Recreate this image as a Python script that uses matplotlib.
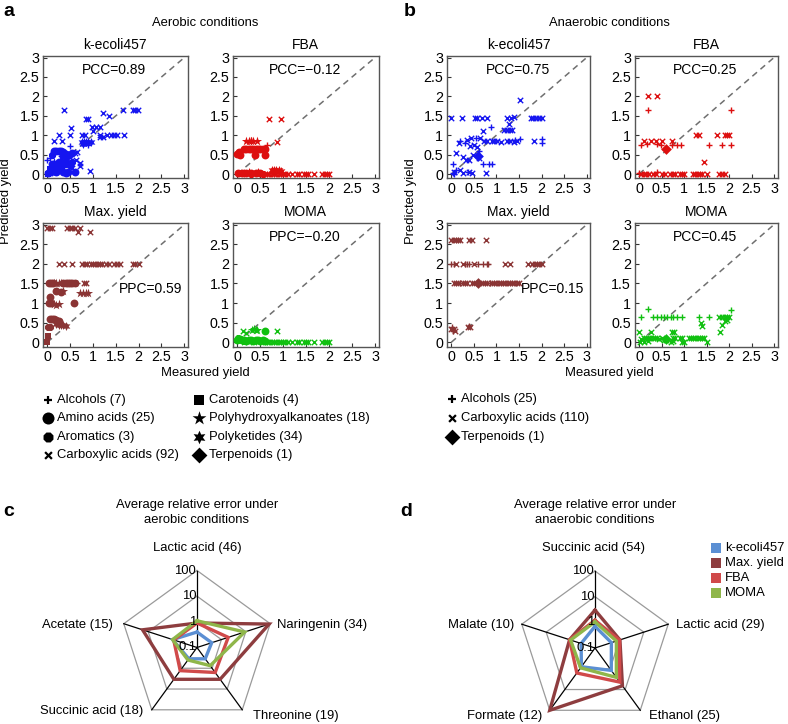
import numpy as np
import matplotlib
matplotlib.use("Agg")
import matplotlib.pyplot as plt
from matplotlib.patches import Rectangle

plt.rcParams['font.family'] = ['Liberation Sans', 'DejaVu Sans']

W, H = 788, 724
FS = 9.4

# ---------------- scatter data (x = measured, y = predicted, c = class code) ----------------
# class codes: + alcohols, o amino acids, 8 aromatics, x carboxylic acids, s carotenoids,
#              * polyhydroxyalkanoates, h polyketides, D terpenoids
aer_kecoli_x = [0.33, 0.36, 0.51, 0.5, 0.25, 0.93, 0.72, 0.6, 0.65, 0.85, 0.9, 0.76, 0.83, 0.97, 1.07, 1.16,
                1.0, 1.21, 1.36, 1.16, 1.3, 1.39, 1.45, 1.52, 1.68, 1.66, 1.88, 1.93, 1.98, 1.16, 1.23, 0.72,
                0.47, 0.14, 0.05, 0.1, 0.2, 0.55, 0.62, 0.3,
                0.5, 0.9, 0.83, 0.0, 0.05,
                0.75, 0.8, 0.85, 0.9, 0.95, 0.78,
                0.15, 0.2, 0.25, 0.3, 0.35, 0.35, 0.42, 0.47, 0.55, 0.4, 0.1, 0.18, 0.25, 0.32, 0.38, 0.42,
                0.5, 0.02, 0.07, 0.13, 0.2, 0.35, 0.4, 0.45, 0.6,
                0.3, 0.55, 0.1,
                0.05, 0.12, 0.02, 0.25,
                0.2, 0.28, 0.45, 0.15]
aer_kecoli_y = [0.85, 1.66, 1.19, 1.0, 1.0, 0.08, 0.28, 0.53, 0.58, 1.41, 1.41, 1.0, 1.0, 1.2, 1.2, 1.2,
                1.1, 1.56, 1.5, 1.0, 1.0, 1.0, 1.0, 1.0, 1.0, 1.66, 1.64, 1.64, 1.64, 0.96, 0.96, 0.2,
                0.46, 0.85, 0.02, 0.1, 0.05, 0.15, 0.35, 0.4,
                0.73, 0.75, 0.8, 0.36, 0.4,
                0.82, 0.82, 0.82, 0.82, 0.82, 0.78,
                0.6, 0.6, 0.6, 0.6, 0.58, 0.5, 0.52, 0.5, 0.53, 0.45, 0.25, 0.22, 0.3, 0.28, 0.25, 0.3,
                0.22, 0.02, 0.05, 0.08, 0.05, 0.05, 0.02, 0.06, 0.05,
                0.15, 0.32, 0.5,
                0.12, 0.18, 0.0, 0.12,
                0.25, 0.2, 0.3, 0.32]
aer_kecoli_c = "x" * 40 + "+" * 5 + "h" * 6 + "o" * 25 + "8" * 3 + "s" * 4 + "*" * 4

aer_fba_x = [0.68, 0.95, 0.87, 0.6, 0.65, 0.7, 0.75, 0.8, 0.85, 0.9, 0.95, 1.0, 1.05, 1.1, 1.2, 1.3, 1.35,
             1.45, 1.5, 1.55, 1.68, 1.85, 1.9, 1.95, 2.0,
             0.64, 0.3,
             0.0, 0.03, 0.05, 0.15, 0.2, 0.25, 0.3, 0.35, 0.4, 0.45, 0.5, 0.55, 0.6, 0.38, 0.6,
             0.02, 0.1, 0.2, 0.3, 0.4, 0.5,
             0.2, 0.25, 0.3, 0.35, 0.42,
             0.75, 0.8, 0.85, 0.9, 0.95, 0.15, 0.25, 0.45,
             0.3, 0.55, 0.05, 0.12]
aer_fba_y = [1.42, 1.42, 0.83, 0, 0, 0, 0, 0, 0, 0, 0, 0, 0, 0, 0, 0, 0,
             0, 0, 0, 0, 0, 0, 0, 0,
             0.76, 0.88,
             0.52, 0.56, 0.5, 0.65, 0.65, 0.65, 0.65, 0.65, 0.65, 0.65, 0.65, 0.65, 0.65, 0.49, 0.49,
             0.02, 0.02, 0.02, 0.02, 0.02, 0.02,
             0.85, 0.85, 0.85, 0.85, 0.85,
             0.1, 0.1, 0.1, 0.1, 0.08, 0.03, 0.05, 0.05,
             0.0, 0.0, 0.0, 0.0]
aer_fba_c = "x" * 25 + "+" * 2 + "o" * 21 + "*" * 5 + "h" * 8 + "8" * 2 + "s" * 2

aer_max_x = [0.0, 0.05, 0.1, 0.43, 0.5, 0.55, 0.6, 0.72, 0.68, 0.94,
             0.25, 0.36, 0.54, 0.76, 0.82, 0.88, 0.95, 1.0, 1.05, 1.1, 1.15, 1.2, 1.28, 1.35, 1.45, 1.52,
             1.6, 1.88, 1.93, 2.0, 0.8, 0.85,
             0.03, 0.08, 0.12, 0.35, 0.4, 0.45, 0.5, 0.55, 0.6, 0.05, 0.03, 0.08, 0.58,
             0.05, 0.1, 0.15, 0.2, 0.25, 0.2, 0.3,
             0.15, 0.2, 0.25, 0.3, 0.35, 0.72, 0.78, 0.84, 0.9, 0.15, 0.2, 0.25,
             0.65,
             0.2, 0.25, 0.3, 0.35, 0.4,
             0.05, 0.02, 0.02, 0.0]
aer_max_y = [2.9, 2.9, 2.9, 2.9, 2.9, 2.9, 2.9, 2.9, 2.82, 2.82,
             2.0, 2.0, 2.0, 2.0, 2.0, 2.0, 2.0, 2.0, 2.0, 2.0, 2.0, 2.0, 2.0, 2.0, 2.0, 2.0,
             2.0, 2.0, 2.0, 2.0, 1.5, 1.5,
             1.5, 1.5, 1.5, 1.5, 1.5, 1.5, 1.5, 1.5, 1.5, 1.15, 1.0, 1.0, 1.0,
             0.6, 0.6, 0.6, 0.58, 0.55, 1.3, 1.28,
             1.5, 1.5, 1.5, 1.5, 1.3, 1.25, 1.25, 1.25, 1.25, 0.97, 0.96, 0.97,
             1.5,
             0.47, 0.45, 0.45, 0.43, 0.42,
             0.4, 0.38, 0.15, 0.0]
aer_max_c = "x" * 32 + "o" * 20 + "*" * 12 + "+" + "h" * 5 + "8" * 2 + "s" * 2

aer_moma_x = [0.13, 0.18, 0.86, 0.6, 0.65, 0.7, 0.75, 0.8, 0.85, 0.9, 0.95, 1.0, 1.05, 1.1, 1.2, 1.3, 1.35,
              1.45, 1.5, 1.55, 1.68, 1.85, 1.9, 1.95, 2.0,
              0.32, 0.36, 0.4, 0.44,
              0.6, 0.0, 0.05, 0.1, 0.15, 0.2, 0.25, 0.3, 0.35, 0.4, 0.45, 0.5, 0.55, 0.6,
              0.1, 0.2, 0.3, 0.4, 0.5,
              0.02, 0.15, 0.35]
aer_moma_y = [0.28, 0.24, 0.3, 0, 0, 0, 0, 0, 0, 0, 0, 0, 0, 0, 0, 0, 0,
              0, 0, 0, 0, 0, 0, 0, 0,
              0.32, 0.33, 0.32, 0.32,
              0.28, 0.05, 0.08, 0.06, 0.05, 0.04, 0.06, 0.05, 0.04, 0.05, 0.06, 0.04, 0.05, 0.04,
              0.03, 0.04, 0.03, 0.04, 0.03,
              0.1, 0.02, 0.02]
aer_moma_c = "x" * 25 + "*" * 4 + "o" * 14 + "h" * 5 + "8" * 3

ana_kecoli_x = [0.0, 0.24, 0.52, 0.58, 0.69, 0.8, 1.23, 1.32, 1.76, 1.82, 1.88, 1.94, 2.0, 1.52, 1.17, 1.24,
                1.3, 1.35, 1.28, 1.39, 0.72, 0.8, 0.9, 0.95, 1.02, 1.1, 1.24, 1.3, 1.4, 1.45, 1.83, 0.5,
                0.34, 0.17, 0.41, 0.58, 0.63, 0.43, 0.1, 0.26, 0.32, 0.39, 0.47, 0.61, 0.76, 0.7, 0.2,
                0.05, 0.25, 0.4, 0.45,
                0.87, 1.52, 2.02, 2.0, 0.71, 0.84, 0.9, 0.04, 0.2, 0.55, 0.3, 0.62, 0.1, 0.03, 0.38,
                1.42, 0.05,
                0.6]
ana_kecoli_y = [1.44, 1.44, 1.44, 1.44, 1.44, 1.44, 1.44, 1.44, 1.44, 1.44, 1.44, 1.44, 1.44, 1.9, 1.13, 1.13,
                1.13, 1.13, 1.3, 1.47, 0.85, 0.85, 0.85, 0.85, 0.85, 0.82, 0.85, 0.85, 0.83, 0.85, 0.85, 0.75,
                0.88, 0.79, 0.72, 0.7, 0.92, 0.92, 0.53, 0.45, 0.36, 0.36, 0.49, 0.4, 0.02, 1.1, 0.1,
                0.05, 0.02, 0.05, 0.03,
                1.22, 0.9, 0.9, 0.8, 0.26, 0.26, 0.26, 0.26, 0.85, 0.92, 0.8, 0.6, 0.1, 0.03, 0.05,
                0.88, 0.0,
                0.46]
ana_kecoli_c = "x" * 51 + "+" * 17 + "D"

ana_fba_x = [0.2, 0.41, 0.1, 0.27, 0.37, 0.52, 0.74, 1.26, 1.33, 1.74, 1.9, 1.95, 2.0, 1.44,
             0.05, 0.1, 0.15, 0.22, 0.3, 0.38, 0.5, 0.58, 0.68, 0.75, 0.8, 0.9, 0.95, 1.0, 1.2, 1.25,
             1.3, 1.35, 1.4, 1.5, 1.78, 1.85, 1.9,
             0.19, 2.04, 0.04, 0.17, 0.39, 0.48, 0.74, 0.85, 0.93, 1.56, 1.85, 2.04, 0.4, 0.0,
             0.59]
ana_fba_y = [2.0, 2.0, 0.85, 0.85, 0.85, 0.85, 0.85, 1.0, 1.0, 1.0, 1.0, 1.0, 1.0, 0.32,
             0, 0, 0, 0, 0, 0, 0, 0, 0, 0, 0, 0, 0, 0, 0, 0,
             0, 0, 0, 0, 0, 0, 0,
             1.65, 1.65, 0.75, 0.77, 0.77, 0.75, 0.75, 0.75, 0.75, 0.75, 0.75, 0.75, 0.05, 0.02,
             0.64]
ana_fba_c = "x" * 37 + "+" * 14 + "D"

ana_max_x = [0.0, 0.05, 0.1, 0.15, 0.2, 0.39, 0.45, 0.76,
             1.2, 1.3, 1.7, 1.78, 1.85, 1.9, 1.95, 2.0, 0.1, 0.25, 0.5,
             0.05, 0.1, 0.15, 0.25, 0.3, 0.35, 0.45, 0.5, 0.7, 0.75, 0.8, 0.9, 0.95, 1.0, 1.05, 1.1,
             1.15, 1.2, 1.25, 1.3, 1.35, 1.4, 1.45, 1.5,
             0.0, 0.05, 0.08, 0.37, 0.42,
             0.0, 0.05, 0.3, 0.35, 0.4, 0.6, 0.7, 0.78, 0.82, 0.85, 0.2, 0.02, 0.03, 0.4,
             0.6]
ana_max_y = [2.6, 2.6, 2.6, 2.6, 2.6, 2.6, 2.6, 2.6,
             2.0, 2.0, 2.0, 2.0, 2.0, 2.0, 2.0, 2.0, 2.0, 2.0, 2.0,
             1.5, 1.5, 1.5, 1.5, 1.5, 1.5, 1.5, 1.5, 1.5, 1.5, 1.5, 1.5, 1.5, 1.5, 1.5, 1.5,
             1.5, 1.5, 1.5, 1.5, 1.5, 1.5, 1.5, 1.5,
             0.35, 0.33, 0.28, 0.4, 0.4,
             2.0, 2.0, 2.0, 2.0, 2.0, 2.0, 2.0, 2.0, 2.0, 1.5, 1.5, 0.38, 0.3, 0.42,
             1.5]
ana_max_c = "x" * 48 + "+" * 14 + "D"

ana_moma_x = [1.78, 1.85, 1.9, 1.95, 2.0, 1.37, 1.41, 1.85, 1.91, 1.96, 1.8, 0.0, 0.26, 0.74, 0.78,
              0.05, 0.1, 0.15, 0.2, 0.25, 0.3, 0.35, 0.4, 0.45, 0.5, 0.55, 0.6, 0.75, 0.8, 0.9, 0.95,
              1.1, 1.15, 1.2, 1.25, 1.3, 1.35, 1.4, 1.45, 0.02, 0.1, 0.2, 0.7, 0.75, 0.95, 1.0, 1.5,
              0.2, 0.05, 0.3, 0.41, 0.48, 0.55, 0.62, 0.7, 0.85, 0.96, 1.33, 1.55, 2.04, 0.75,
              0.6]
ana_moma_y = [0.65, 0.65, 0.65, 0.65, 0.65, 0.49, 0.41, 0.45, 0.53, 0.58, 0.26, 0.26, 0.26, 0.26, 0.26,
              0.08, 0.1, 0.1, 0.12, 0.12, 0.1, 0.12, 0.1, 0.08, 0.1, 0.05, 0.05, 0.1, 0.1, 0.1, 0.1,
              0.1, 0.1, 0.1, 0.1, 0.1, 0.1, 0.1, 0.12, 0.0, 0.0, 0.02, 0.0, 0.02, 0.0, 0.0, 0.0,
              0.85, 0.65, 0.65, 0.65, 0.65, 0.65, 0.65, 0.65, 0.65, 0.65, 0.65, 0.65, 0.83, 0.65,
              0.08]
ana_moma_c = "x" * 47 + "+" * 14 + "D"

pcc_labels = {"aer_kecoli": "PCC=0.89", "aer_fba": "PCC=\u22120.12", "aer_max": "PPC=0.59",
              "aer_moma": "PPC=\u22120.20", "ana_kecoli": "PCC=0.75", "ana_fba": "PCC=0.25",
              "ana_max": "PPC=0.15", "ana_moma": "PCC=0.45"}

aer_legend = ["Alcohols (7)", "Amino acids (25)", "Aromatics (3)", "Carboxylic acids (92)",
              "Carotenoids (4)", "Polyhydroxyalkanoates (18)", "Polyketides (34)", "Terpenoids (1)"]
aer_legend_codes = ["+", "o", "8", "x", "s", "*", "h", "D"]
ana_legend = ["Alcohols (25)", "Carboxylic acids (110)", "Terpenoids (1)"]
ana_legend_codes = ["+", "x", "D"]

# ---------------- radar data ----------------
radar_rings = [0.1, 1, 10, 100]
c_axes = ["Lactic acid (46)", "Naringenin (34)", "Threonine (19)", "Succinic acid (18)", "Acetate (15)"]
c_kecoli = [0.4, 0.4, 0.35, 0.35, 1.0]
c_maxyield = [0.9, 90, 3.4, 3.4, 17]
c_fba = [0.9, 1.9, 1.6, 1.3, 0.9]
c_moma = [1.1, 9, 0.75, 0.4, 1.0]

d_axes = ["Succinic acid (54)", "Lactic acid (29)", "Ethanol (25)", "Formate (12)", "Malate (10)"]
d_kecoli = [0.7, 0.47, 1.2, 0.8, 0.37]
d_maxyield = [3.0, 1.05, 6.6, 100, 1.1]
d_fba = [1.2, 1.0, 4.4, 1.6, 1.1]
d_moma = [1.05, 0.75, 2.6, 0.9, 1.0]
radar_series = ["k-ecoli457", "Max. yield", "FBA", "MOMA"]
radar_colors = ["#5b8fd3", "#8e3d3f", "#d04a4a", "#8fb64a"]

# ---------------- styling ----------------
MARKERS = {'+': '+', 'o': 'o', '8': '8', 'x': 'x', 's': 's', '*': '*', 'h': (6, 1, 0), 'D': 'D'}
SIZES = {'+': 24, 'o': 32, '8': 30, 'x': 15, 's': 22, '*': 48, 'h': 42, 'D': 30}
COL = {"kecoli": "#1515f0", "fba": "#dd0f0f", "max": "#8a3434", "moma": "#10c010"}

fig = plt.figure(figsize=(W / 100, H / 100), dpi=100)


def px_axes(l, t, r, b, **kw):
    return fig.add_axes([l / W, 1 - b / H, (r - l) / W, (b - t) / H], **kw)


def scatter_panel(box, xs, ys, cs, color, label):
    ax = px_axes(*box)
    ax.plot([0, 3], [0, 3], ls=(0, (4, 3)), color="#6f6f6f", lw=1.1, zorder=1)
    xs = np.asarray(xs, float)
    ys = np.asarray(ys, float)
    cs = np.array(list(cs))
    for code in dict.fromkeys(cs):
        m = cs == code
        lw = 1.0 if code in "+x" else 0
        ax.scatter(xs[m], ys[m], marker=MARKERS[code], s=SIZES[code], color=color,
                   linewidths=lw, zorder=3)
    ax.set_xlim(-0.1, 3.08)
    ax.set_ylim(-0.11, 3.04)
    ticks = [0, 0.5, 1, 1.5, 2, 2.5, 3]
    lbl = ["0", "0.5", "1", "1.5", "2", "2.5", "3"]
    ax.set_xticks(ticks, lbl)
    ax.set_yticks(ticks, lbl)
    ax.tick_params(direction="in", length=3, width=0.8, labelsize=10.3, pad=2.5, colors="#333333",
                   labelcolor="black")
    for s in ax.spines.values():
        s.set_color("#555555")
        s.set_linewidth(1.0)
    if label in ("aer_max", "ana_max"):
        ax.text(2.25, 1.36, pcc_labels[label], ha="center", va="center", fontsize=10)
    else:
        ax.text(1.47, 2.68, pcc_labels[label], ha="center", va="center", fontsize=10)
    return ax


top = (56, 178.3)
bot = (223, 346.6)
scatter_panel((42.7, top[0], 188, top[1]), aer_kecoli_x, aer_kecoli_y, aer_kecoli_c, COL["kecoli"], "aer_kecoli")
scatter_panel((232.7, top[0], 378.7, top[1]), aer_fba_x, aer_fba_y, aer_fba_c, COL["fba"], "aer_fba")
scatter_panel((42.7, bot[0], 188, bot[1]), aer_max_x, aer_max_y, aer_max_c, COL["max"], "aer_max")
scatter_panel((232.7, bot[0], 378.7, bot[1]), aer_moma_x, aer_moma_y, aer_moma_c, COL["moma"], "aer_moma")
scatter_panel((446.8, top[0], 590.3, top[1]), ana_kecoli_x, ana_kecoli_y, ana_kecoli_c, COL["kecoli"], "ana_kecoli")
scatter_panel((634.5, top[0], 777.6, top[1]), ana_fba_x, ana_fba_y, ana_fba_c, COL["fba"], "ana_fba")
scatter_panel((446.8, bot[0], 590.3, bot[1]), ana_max_x, ana_max_y, ana_max_c, COL["max"], "ana_max")
scatter_panel((634.5, bot[0], 777.6, bot[1]), ana_moma_x, ana_moma_y, ana_moma_c, COL["moma"], "ana_moma")

ov = fig.add_axes([0, 0, 1, 1])
ov.set_xlim(0, W)
ov.set_ylim(H, 0)
ov.axis("off")

# ---------------- radar panels ----------------
R_PX = 77.0


def radar_panel(center, values_list, title_lines, axis_labels, label_pos):
    cx, cy = center
    ax = px_axes(cx - 197, 528, cx + 197, 724)
    ax.set_xlim(-197 / R_PX, 197 / R_PX)
    ax.set_ylim((cy - 724) / R_PX, (cy - 528) / R_PX)
    ax.axis("off")
    n = len(axis_labels)
    ang = np.deg2rad(90 - 360 / n * np.arange(n))
    lo, hi = np.log10(radar_rings[0]), np.log10(radar_rings[-1])
    for ring in radar_rings[1:]:
        r = (np.log10(ring) - lo) / (hi - lo)
        xs = np.r_[r * np.cos(ang), r * np.cos(ang[0])]
        ys = np.r_[r * np.sin(ang), r * np.sin(ang[0])]
        ax.plot(xs, ys, color="#9a9a9a", lw=0.9, zorder=1)
    for a in ang:
        ax.plot([0, np.cos(a)], [0, np.sin(a)], color="black", lw=0.9, zorder=2)
    for vals, col in zip(values_list, radar_colors):
        r = (np.log10(np.asarray(vals, float)) - lo) / (hi - lo)
        xs = np.r_[r * np.cos(ang), r[0] * np.cos(ang[0])]
        ys = np.r_[r * np.sin(ang), r[0] * np.sin(ang[0])]
        ax.plot(xs, ys, color=col, lw=2.4, zorder=3, solid_joinstyle="miter")
    for ring in radar_rings:
        r = (np.log10(ring) - lo) / (hi - lo)
        ax.text(-0.01, r, f"{ring:g}", ha="right", va="center", fontsize=FS, zorder=4)
    for txt, (x, y, ha) in zip(axis_labels, label_pos):
        ov.text(x, y, txt, ha=ha, va="center", fontsize=FS)
    for i, line in enumerate(title_lines):
        ov.text(cx, 505 + 15 * i, line, ha="center", va="center", fontsize=FS)


radar_panel((197, 647.5), [c_kecoli, c_maxyield, c_fba, c_moma],
            ["Average relative error under", "aerobic conditions"], c_axes,
            [(197, 548, "center"), (277, 625, "left"), (253, 716, "left"),
             (143, 711, "right"), (113, 625, "right")])
radar_panel((595, 648), [d_kecoli, d_maxyield, d_fba, d_moma],
            ["Average relative error under", "anaerobic conditions"], d_axes,
            [(594, 548, "center"), (676, 625, "left"), (649, 716, "left"),
             (542, 716, "right"), (514, 625, "right")])

# radar legend
for i, (name, col) in enumerate(zip(radar_series, radar_colors)):
    y = 548.3 + 15 * i
    ov.add_patch(Rectangle((711.5, y - 5), 9.5, 10, color=col, lw=0))
    ov.text(725, y, name, ha="left", va="center", fontsize=FS)

# ---------------- overlay texts ----------------
ov.text(3, 12, "a", fontsize=14, fontweight="bold", ha="left", va="center")
ov.text(404, 11, "b", fontsize=14, fontweight="bold", ha="left", va="center")
ov.text(3, 512, "c", fontsize=14, fontweight="bold", ha="left", va="center")
ov.text(400, 512, "d", fontsize=14, fontweight="bold", ha="left", va="center")

ov.text(205, 22.5, "Aerobic conditions", ha="center", va="center", fontsize=FS)
ov.text(609, 22.5, "Anaerobic conditions", ha="center", va="center", fontsize=FS)
for (xc, name) in [(115, "k-ecoli457"), (305.7, "FBA"), (518.5, "k-ecoli457"), (706, "FBA")]:
    ov.text(xc, 45, name, ha="center", va="center", fontsize=10)
for (xc, name) in [(115, "Max. yield"), (305.7, "MOMA"), (518.5, "Max. yield"), (706, "MOMA")]:
    ov.text(xc, 212, name, ha="center", va="center", fontsize=10)
ov.text(205, 373, "Measured yield", ha="center", va="center", fontsize=FS)
ov.text(609, 373, "Measured yield", ha="center", va="center", fontsize=FS)
ov.text(6, 201, "Predicted yield", ha="center", va="center", rotation=90, fontsize=FS)
ov.text(411, 201, "Predicted yield", ha="center", va="center", rotation=90, fontsize=FS)


# category legends
def legend_marker(x, y, code):
    lw = 1.6 if code in "+x" else 0
    sz = {'+': 40, 'x': 24, 'o': 75, '8': 60, 's': 55, '*': 110, 'h': 95, 'D': 65}[code]
    ov.scatter([x], [y], marker=MARKERS[code], s=sz, color="black", linewidths=lw)


rows = [400, 418.3, 436.7, 455]
for i, (txt, code) in enumerate(zip(aer_legend, aer_legend_codes)):
    col, row = divmod(i, 4)
    mx, tx = (48, 57.5) if col == 0 else (199.3, 209.5)
    legend_marker(mx, rows[row], code)
    ov.text(tx, rows[row], txt, ha="left", va="center", fontsize=FS)
rows_b = [399, 417.7, 436.7]
for i, (txt, code) in enumerate(zip(ana_legend, ana_legend_codes)):
    legend_marker(452, rows_b[i], code)
    ov.text(461, rows_b[i], txt, ha="left", va="center", fontsize=FS)

fig.savefig("out.png", dpi=100)
